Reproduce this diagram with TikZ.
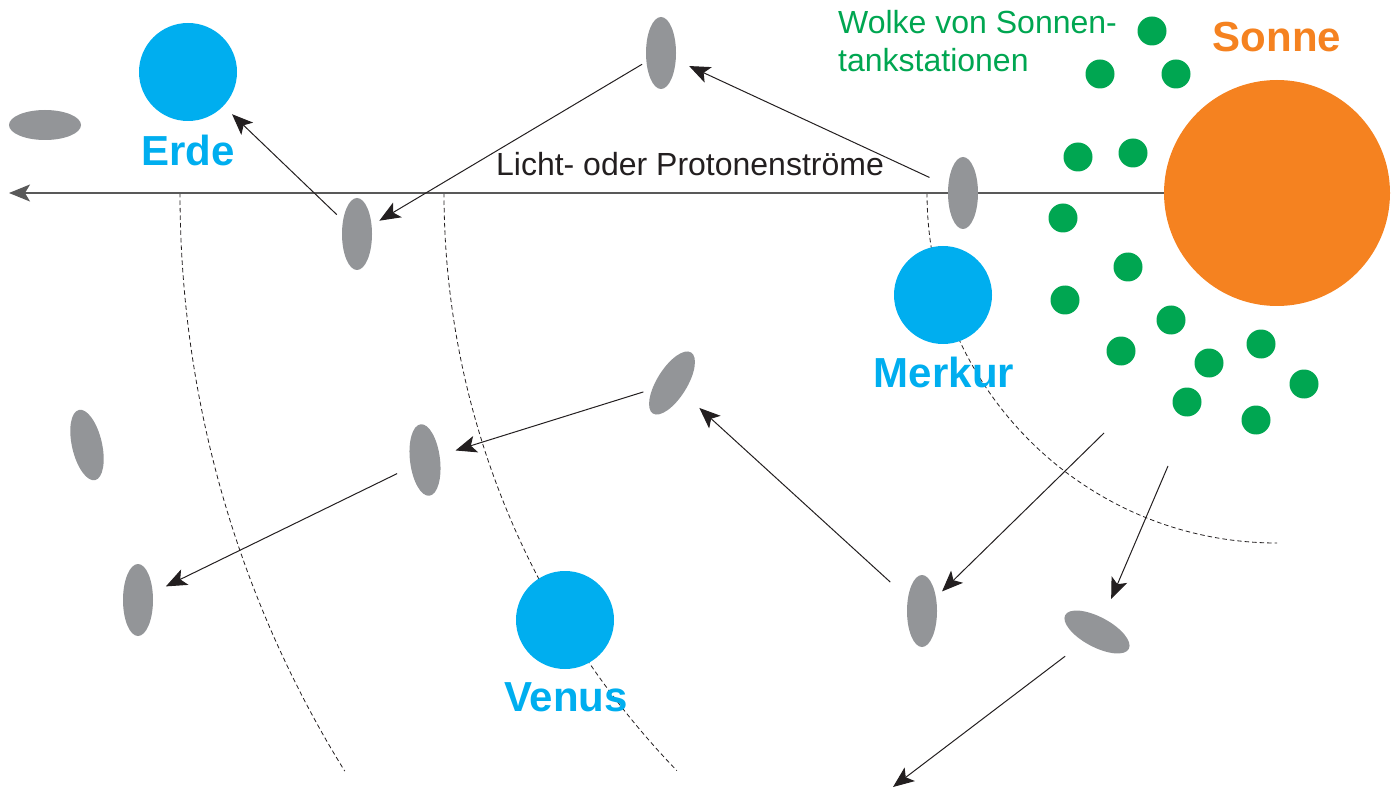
\documentclass[tikz,border=0pt]{standalone}
\usepackage{fontspec}
\setmainfont{Liberation Sans}
\usetikzlibrary{arrows.meta,shapes.geometric}
\definecolor{planetblue}{HTML}{00AEEF}
\definecolor{sunorange}{HTML}{F58220}
\definecolor{stationgreen}{HTML}{00A651}
\definecolor{sailgray}{HTML}{939598}
\definecolor{inkblack}{HTML}{231F20}
\begin{document}
\begin{tikzpicture}[x = 1pt, y = -1pt,
    sail/.style = {ellipse, fill = sailgray, minimum width = 30pt, minimum height = 72pt, inner sep = 0pt},
    planet/.style = {circle, fill = planetblue, minimum size = 98pt, inner sep = 0pt},
    station/.style = {circle, fill = stationgreen, minimum size = 29pt, inner sep = 0pt},
    flow/.style = {-{Stealth[length = 21pt, width = 17pt, inset = 5pt]}, line width = 1pt, inkblack},
    orbit/.style = {line width = 0.8pt, dash pattern = on 4.5pt off 3pt, inkblack},
    planetname/.style = {anchor = base, text = planetblue, font = \fontsize{42}{48}\selectfont\bfseries}]
    \useasboundingbox (0, 0) rectangle (1399, 791);
    \coordinate (sun) at (1277, 193);
    \coordinate (rayend) at (9, 193);
    \coordinate (c1) at (1104, 433);
    \coordinate (c2) at (1168, 466);
    \coordinate (c3) at (893, 787);
    \draw [orbit] (sun) ++(-350, 0) arc [start angle = 180, end angle = 270, radius = 350pt];
    \draw [orbit] (sun) ++(-833, 0) arc [start angle = 180, end angle = 223.9, radius = 833pt];
    \draw [orbit] (sun) ++(-1097, 0) arc [start angle = 180, end angle = 211.8, radius = 1097pt];
    \draw [-{Stealth[length = 21pt, width = 17pt, inset = 5pt]}, line width = 1.3pt, black!65] (sun) -- (rayend);
    \node [circle, fill = sunorange, minimum size = 226pt, inner sep = 0pt] (sonne) at (sun) {};
    \node [planet] (erde) at (188, 72) {};
    \node [planet] (merkur) at (943, 295) {};
    \node [planet] (venus) at (565, 620) {};
    \node [sail, rotate = 90] (s1) at (45, 125) {};
    \node [sail] (s2) at (357, 234) {};
    \node [sail] (s3) at (661, 53) {};
    \node [sail] (s4) at (963, 193) {};
    \node [sail, rotate = -32] (s5) at (672, 383) {};
    \node [sail, rotate = 7] (s6) at (425, 460) {};
    \node [sail, rotate = 13] (s7) at (87, 445) {};
    \node [sail] (s8) at (138, 600) {};
    \node [sail] (s9) at (922, 611) {};
    \node [sail, rotate = 62] (s10) at (1097, 632) {};
    \foreach \p [count = \i] in {(1152, 31), (1100, 74), (1176, 74), (1078, 157), (1133, 153),
        (1063, 218), (1128, 267), (1065, 300), (1171, 320), (1121, 351), (1209, 363),
        (1261, 344), (1304, 384), (1187, 402), (1256, 420)}
      \node [station] (dot\i) at \p {};
    \draw [flow, shorten <= 37pt, shorten >= 31pt] (s4.center) -- (s3.center);
    \draw [flow, shorten <= 22pt, shorten >= 26pt] (s3.center) -- (s2.center);
    \draw [flow, shorten <= 28pt, shorten >= 61pt] (s2.center) -- (erde.center);
    \draw [flow, shorten <= 30pt, shorten >= 32pt] (s5.center) -- (s6.center);
    \draw [flow, shorten <= 31pt, shorten >= 31pt] (s6.center) -- (s8.center);
    \draw [flow, shorten <= 43pt, shorten >= 37pt] (s9.center) -- (s5.center);
    \draw [flow, shorten >= 28pt] (c1) -- (s9.center);
    \draw [flow, shorten >= 36pt] (c2) -- (s10.center);
    \draw [flow, shorten <= 40pt] (s10.center) -- (c3);
    \node [planetname] (erdelabel) at (188, 166) {Erde};
    \node [planetname] (merkurlabel) at (944, 387) {Merkur};
    \node [planetname] (venuslabel) at (566, 711) {Venus};
    \node [planetname, text = sunorange] (sonnelabel) at (1277, 52) {Sonne};
    \node [anchor = base, text = inkblack, font = \fontsize{32}{38}\selectfont] (raylabel) at (690, 176) {Licht- oder Protonenströme};
    \node [anchor = north west, inner sep = 0pt, align = left, text = stationgreen, font = \fontsize{32}{38}\selectfont] (cloudlabel) at (838, 10) {Wolke von Sonnen-\\tankstationen};
\end{tikzpicture}
\end{document}
